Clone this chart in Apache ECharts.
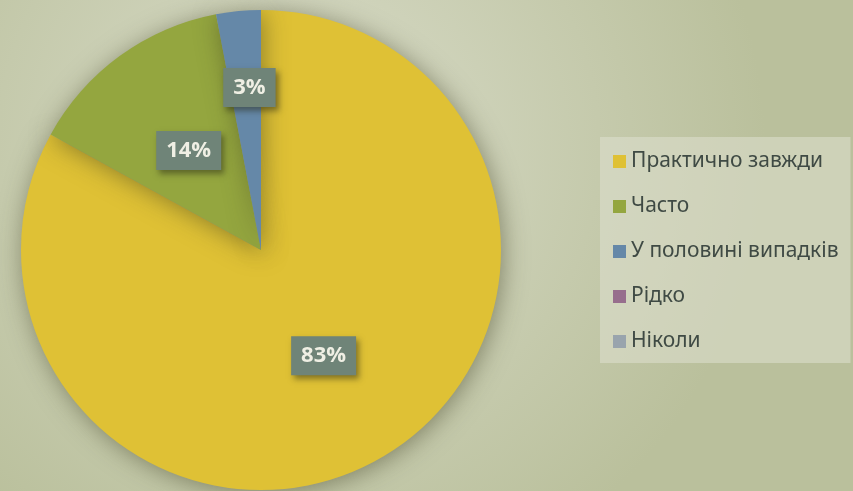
<!DOCTYPE html>
<html>
<head>
<meta charset="utf-8">
<script src="https://cdn.jsdelivr.net/npm/echarts@6/dist/echarts.min.js"></script>
<style>
  html, body { margin: 0; padding: 0; }
  #chart { width: 853px; height: 491px; }
</style>
</head>
<body>
<div id="chart"></div>
<script>
const categories = ["Практично завжди", "Часто", "У половині випадків", "Рідко", "Ніколи"];
const values = [83, 14, 3, 0, 0];
const colors = ["#dfc135", "#94a63f", "#6588a8", "#976e8d", "#99a4ad"];

const chart = echarts.init(document.getElementById("chart"));

const option = {
  backgroundColor: new echarts.graphic.RadialGradient(0.35, 0.3, 0.95, [
    { offset: 0, color: "#d9dcc9" },
    { offset: 1, color: "#bac09c" }
  ]),
  animation: false,
  legend: {
    orient: "vertical",
    left: 600,
    top: 137,
    padding: [14, 12, 11, 13],
    itemGap: 24,
    itemWidth: 13,
    itemHeight: 13,
    icon: "rect",
    backgroundColor: "rgba(222,224,208,0.55)",
    textStyle: { fontFamily: "Noto Sans", fontSize: 21, color: "#3f4a44" },
    data: categories
  },
  series: [
    {
      type: "pie",
      center: [261, 250],
      radius: 240,
      startAngle: 90,
      clockwise: true,
      avoidLabelOverlap: false,
      emphasis: { disabled: true },
      itemStyle: {
        shadowBlur: 24,
        shadowColor: "rgba(60,60,30,0.5)",
        shadowOffsetX: 2,
        shadowOffsetY: 3
      },
      label: {
        show: true,
        position: "inside",
        formatter: "{d}%",
        fontFamily: "Open Sans",
        fontWeight: "bold",
        fontSize: 22,
        color: "#efefe4",
        backgroundColor: "#6f8478",
        padding: [9, 10, 8, 10],
        shadowBlur: 6,
        shadowColor: "rgba(40,40,20,0.5)",
        shadowOffsetX: 3,
        shadowOffsetY: 4
      },
      labelLine: { show: false },
      labelLayout: function (params) {
        if (params.dataIndex === 2) return { dy: -40 };
        return {};
      },
      data: categories.map(function (name, i) {
        const item = { name: name, value: values[i], itemStyle: { color: colors[i] } };
        if (values[i] === 0) item.label = { show: false };
        return item;
      })
    }
  ]
};

chart.setOption(option);
</script>
</body>
</html>
